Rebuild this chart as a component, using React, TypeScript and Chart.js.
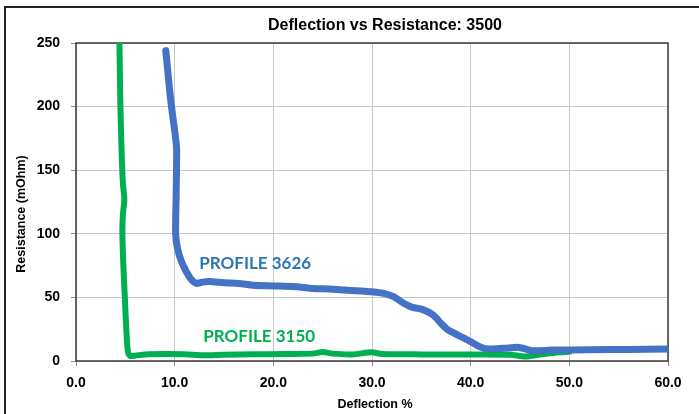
import { useEffect, useRef } from "react";
import { Chart, registerables } from "chart.js";

Chart.register(...registerables);

// ---- data ----
const chartTitle = "Deflection vs Resistance: 3500";
const xAxisTitle = "Deflection %";
const yAxisTitle = "Resistance (mOhm)";

const profile3626X = [9.1, 9.6, 10.1, 10.2, 10.15, 10.1, 10.3, 10.7, 11.2, 11.7, 12.2, 12.8, 13.5, 15, 16.5, 18, 20, 22, 24, 26, 27.8, 29, 30, 31.2, 32.2, 33.2, 34.1, 35.1, 36.2, 37.0, 37.7, 38.7, 39.7, 40.9, 41.7, 43.4, 44.9, 46.3, 48.2, 52, 56, 60];
const profile3626Y = [244, 205, 175, 165, 130, 100, 88, 78, 70, 64, 61, 62, 62.5, 61.5, 61, 59.5, 59, 58.5, 57, 56.5, 55.5, 55, 54.5, 53.2, 50.6, 45.4, 42.2, 40.6, 36.2, 29.6, 24.4, 20.4, 16.5, 11.3, 9.4, 10.0, 10.7, 8.1, 8.6, 8.8, 9.1, 9.4];

const profile3150X = [4.4, 4.45, 4.5, 4.6, 4.75, 4.9, 4.75, 4.7, 4.8, 4.95, 5.1, 5.25, 5.5, 6, 7, 9, 11, 13, 15, 18, 21, 24, 25, 26, 28, 30, 31, 35, 40, 44, 45.5, 47, 48.5, 50];
const profile3150Y = [252, 225, 200, 170, 140, 127, 115, 100, 75, 50, 25, 8, 4, 4.2, 5.2, 5.5, 5.3, 4.5, 5, 5.3, 5.5, 5.8, 7, 5.8, 5.2, 6.8, 5.5, 5.2, 5.2, 5, 3.5, 5, 6.5, 7.2];

const xTicks = [0, 10, 20, 30, 40, 50, 60];
const yTicks = [0, 50, 100, 150, 200, 250];

const seriesNames = ["PROFILE 3626", "PROFILE 3150"];
const labelX = [12.5, 12.9];
const labelY = [76.5, 18.9];

// ---- styles ----
const BLUE = "#4472C4";
const GREEN = "#00B050";
const BLUE_TEXT = "#2E75B6";
const FONT = "'Liberation Sans', Arial, sans-serif";

const toPoints = (xs: number[], ys: number[]) => xs.map((x, i) => ({ x, y: ys[i] }));

const overlay = {
  id: "overlay",
  beforeDatasetsDraw(chart: any) {
    const { ctx, chartArea } = chart;
    ctx.save();
    ctx.strokeStyle = "#3a3a3a";
    ctx.lineWidth = 1.5;
    ctx.strokeRect(chartArea.left, chartArea.top, chartArea.right - chartArea.left, chartArea.bottom - chartArea.top);
    ctx.restore();
  },
  afterDraw(chart: any) {
    const { ctx, chartArea, scales } = chart;
    ctx.save();
    // title
    ctx.fillStyle = "#000";
    ctx.font = `bold 16px ${FONT}`;
    ctx.textAlign = "center";
    ctx.textBaseline = "middle";
    ctx.fillText(chartTitle, (chartArea.left + chartArea.right) / 2 + 13, 26);
    // axis titles
    ctx.font = `bold 12.5px ${FONT}`;
    ctx.fillText(xAxisTitle, (chartArea.left + chartArea.right) / 2 + 3, 405);
    ctx.save();
    ctx.translate(22, (chartArea.top + chartArea.bottom) / 2 + 12);
    ctx.rotate(-Math.PI / 2);
    ctx.fillText(yAxisTitle, 0, 0);
    ctx.restore();
    // series labels
    ctx.font = `bold 17px Lato, 'Open Sans', sans-serif`;
    ctx.textAlign = "left";
    const colors = [BLUE_TEXT, GREEN];
    seriesNames.forEach((name, i) => {
      ctx.fillStyle = colors[i];
      ctx.fillText(name, scales.x.getPixelForValue(labelX[i]), scales.y.getPixelForValue(labelY[i]));
    });
    ctx.restore();
  },
};

export default function App() {
  const ref = useRef<HTMLCanvasElement | null>(null);

  useEffect(() => {
    if (!ref.current) return;
    const chart = new Chart(ref.current, {
      type: "line",
      data: {
        datasets: [
          {
            label: seriesNames[0],
            data: toPoints(profile3626X, profile3626Y),
            borderColor: BLUE,
            backgroundColor: BLUE,
            borderWidth: 7,
            pointRadius: 0,
            tension: 0.25,
            borderCapStyle: "round",
            borderJoinStyle: "round",
            clip: 0,
          },
          {
            label: seriesNames[1],
            data: toPoints(profile3150X, profile3150Y),
            borderColor: GREEN,
            backgroundColor: GREEN,
            borderWidth: 6,
            pointRadius: 0,
            tension: 0.25,
            borderCapStyle: "round",
            borderJoinStyle: "round",
            clip: 0,
          },
        ],
      },
      options: {
        animation: false,
        responsive: false,
        maintainAspectRatio: false,
        layout: { padding: { left: 0, right: 31, top: 43, bottom: 0 } },
        plugins: {
          legend: { display: false },
          title: { display: false },
          tooltip: { enabled: false },
        },
        scales: {
          x: {
            type: "linear",
            min: 0,
            max: 60,
            afterFit: (s: any) => {
              s.height = 53;
            },
            afterBuildTicks: (s: any) => {
              s.ticks = xTicks.map((v) => ({ value: v }));
            },
            ticks: {
              padding: 9,
              color: "#000",
              font: { family: FONT, size: 14, weight: "bold" },
              callback: (v: any) => Number(v).toFixed(1),
            },
            grid: { color: "#c8c8c8", lineWidth: 1, tickLength: 5, tickColor: "#8a8a8a" },
            border: { display: false },
          },
          y: {
            type: "linear",
            min: 0,
            max: 250,
            afterFit: (s: any) => {
              s.width = 76;
            },
            afterBuildTicks: (s: any) => {
              s.ticks = yTicks.map((v) => ({ value: v }));
            },
            ticks: {
              padding: 11,
              color: "#000",
              font: { family: FONT, size: 14, weight: "bold" },
            },
            grid: { color: "#c8c8c8", lineWidth: 1, tickLength: 5, tickColor: "#8a8a8a" },
            border: { display: false },
          },
        },
      },
      plugins: [overlay],
    } as any);
    return () => chart.destroy();
  }, []);

  return (
    <div style={{ position: "fixed", left: 0, top: 0, width: 699, height: 414, overflow: "hidden", background: "#fff" }}>
      <canvas ref={ref} width={699} height={414} style={{ position: "absolute", left: 0, top: 0, width: 699, height: 414 }} />
      <div
        style={{
          position: "absolute",
          left: 4,
          top: 6,
          width: 760,
          height: 500,
          border: "2px solid #222",
          pointerEvents: "none",
        }}
      />
    </div>
  );
}
